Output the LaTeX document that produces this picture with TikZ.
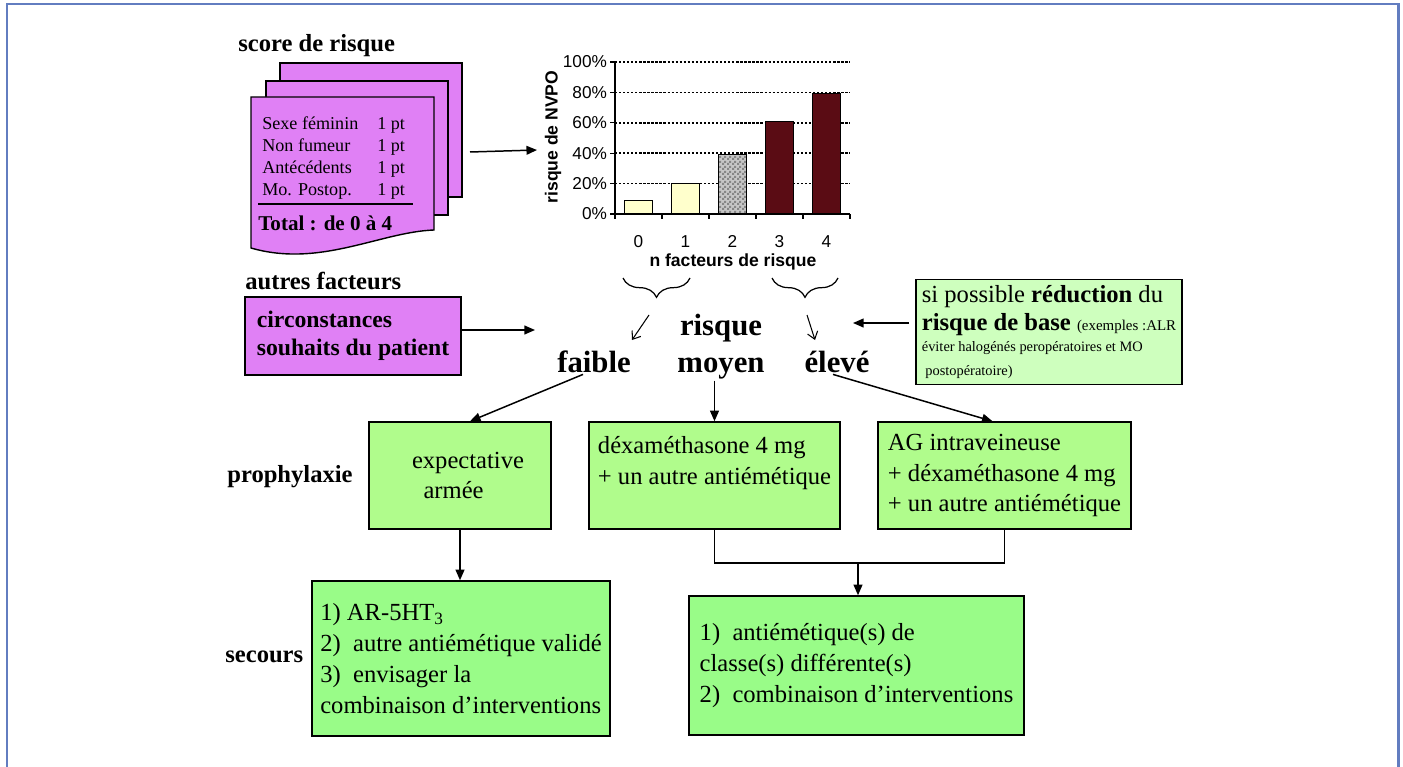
\documentclass[tikz,border=0pt]{standalone}
\usepackage{fontspec}
\setmainfont{Liberation Serif}
\newfontfamily\chartfont{Liberation Sans}
\usetikzlibrary{arrows.meta,decorations.pathreplacing,patterns,positioning}
\definecolor{frameblue}{RGB}{98,125,192}
\definecolor{pagemauve}{RGB}{224,128,245}
\definecolor{prophgreen}{RGB}{176,252,140}
\definecolor{secgreen}{RGB}{153,252,136}
\definecolor{palegreen}{RGB}{206,255,190}
\definecolor{barpale}{RGB}{255,255,204}
\definecolor{bardark}{RGB}{90,12,20}
\newcommand\fsz[2]{\fontsize{#1}{#2}\selectfont}
\pgfdeclarepatternformonly{finechecker}{\pgfpointorigin}{\pgfqpoint{2.6pt}{2.6pt}}{\pgfqpoint{2.6pt}{2.6pt}}
  {\pgfpathrectangle{\pgfpointorigin}{\pgfqpoint{1.3pt}{1.3pt}}
   \pgfpathrectangle{\pgfqpoint{1.3pt}{1.3pt}}{\pgfqpoint{1.3pt}{1.3pt}}
   \pgfusepath{fill}}

\begin{document}
\begin{tikzpicture}
      [x=0.02cm, y=-0.02cm,
      arr/.style={-{Triangle[length=6pt,width=5pt]}, line width=0.85pt},
      thinarr/.style={-{Straight Barb[length=4pt,width=6pt]}, line width=0.6pt},
      box/.style={draw, line width=0.85pt, align=left, font=\fsz{14}{17.6}},
      title/.style={font=\bfseries\fsz{14}{17}, inner sep=0pt, anchor=base west},
      riskword/.style={font=\bfseries\fsz{17.5}{20}, inner sep=1pt, anchor=base},
      page/.style={draw, line width=0.8pt, fill=pagemauve},
      gridline/.style={line width=0.8pt, dash pattern=on 1.3pt off 1pt},
      bar/.style={draw, line width=0.5pt},
      ticklabel/.style={font=\chartfont\fsz{9.8}{11}, inner sep=1pt}]

      \useasboundingbox (0,0) rectangle (1403,767);
      \draw[frameblue, line width=1.7pt] (7,767) -- (7,4) -- (1398,4) -- (1398,767);

      % score de risque
      \node[title] (scoretitle) at (238,52) {score de risque};
      \draw[page] (280,63) rectangle (462,197);
      \draw[page] (266,81) rectangle (448,215);
      \draw[page] (251,97) -- (434,97) -- (434,230)
        .. controls (380,232) and (320,268) .. (251,248) -- cycle;
      \node[anchor=base west, inner sep=0pt, font=\fsz{10.3}{12.5}] (scorelist) at (262,130)
        {\begin{tabular}[t]{@{}p{2.3cm}@{}l@{}}
          Sexe féminin & 1 pt\\
          Non fumeur & 1 pt\\
          Antécédents & 1 pt\\
          Mo. Postop. & 1 pt
        \end{tabular}};
      \draw[line width=0.8pt] (258,204) -- (413,204);
      \node[anchor=base west, inner sep=0pt, font=\bfseries\fsz{12}{14}] (total) at (258,230) {Total : de 0 à 4};

      \coordinate (docout) at (470,152);
      \coordinate (chartin) at (537,150);
      \draw[arr] (docout) -- (chartin);

      % chart
      \foreach \p in {20,40,60,80,100}
        \draw[gridline] (615,{214-1.52*\p}) -- (850,{214-1.52*\p});
      \foreach \i/\h in {0/9,1/20}
        \draw[bar, fill=barpale] ({624+47*\i},214) rectangle ({652+47*\i},{214-1.52*\h});
      \fill[gray!45] (718,214) rectangle (746,{214-1.52*39});
      \fill[pattern=finechecker, pattern color=gray!95] (718,214) rectangle (746,{214-1.52*39});
      \draw[bar] (718,214) rectangle (746,{214-1.52*39});
      \foreach \i/\h in {3/61,4/79}
        \draw[bar, fill=bardark] ({624+47*\i},214) rectangle ({652+47*\i},{214-1.52*\h});
      \draw[line width=0.7pt] (615,62) -- (615,214) -- (850,214);
      \foreach \p in {0,20,40,60,80,100} {
        \draw[line width=0.7pt] (610,{214-1.52*\p}) -- (615,{214-1.52*\p});
        \node[ticklabel, anchor=east] at (609,{214-1.52*\p}) {\p\%};
      }
      \foreach \x in {615,662,709,756,803,850}
        \draw[line width=0.7pt] (\x,214) -- (\x,219);
      \foreach \i in {0,...,4}
        \node[ticklabel, anchor=base] (cat\i) at ({638.5+47*\i},247) {\i};
      \node[font=\chartfont\bfseries\fsz{10}{12}] (xlabel) at (733,262) {n facteurs de risque};
      \node[font=\chartfont\bfseries\fsz{10}{12}, rotate=90] (ylabel) at (553,137) {risque de NVPO};

      % niveaux de risque
      \draw[decorate, decoration={brace, mirror, amplitude=11pt}, line width=0.7pt] (623,278) -- (690,278);
      \draw[decorate, decoration={brace, mirror, amplitude=11pt}, line width=0.7pt] (772,278) -- (838,278);
      \coordinate (braceL) at (649,315);
      \coordinate (lowend) at (632,340);
      \coordinate (braceR) at (807,315);
      \coordinate (highend) at (815,340);
      \draw[thinarr] (braceL) -- (lowend);
      \draw[thinarr] (braceR) -- (highend);

      \node[riskword] (risque) at (721,335) {risque};
      \node[riskword] (faible) at (594,372) {faible};
      \node[riskword] (moyen) at (721,372) {moyen};
      \node[riskword] (eleve) at (837,372) {élevé};

      % autres facteurs
      \node[title] (autrestitle) at (245,289) {autres facteurs};
      \node[box, fill=pagemauve, font=\bfseries\fsz{13.5}{16}, minimum width=4.32cm, minimum height=1.56cm] (circbox)
        at (353,336) {circonstances\\souhaits du patient};
      \coordinate (circin) at (535,330);
      \draw[arr] (circbox.east |- circin) -- (circin);

      % reduction du risque de base
      \node[box, fill=palegreen, font=\fsz{14}{16}, minimum width=5.28cm, minimum height=2.04cm] (redbox)
        at (1049,332) {si possible \textbf{réduction} du\\
        \textbf{risque de base} {\fsz{8.5}{10}(exemples :ALR}\\[-4pt]
        {\fsz{8.2}{10}éviter halogénés peropératoires et MO}\\[-2.4pt]
        {\fsz{8.2}{10}\hspace*{2pt}postopératoire)}};
      \coordinate (redout) at (909,323);
      \coordinate (redin) at (853,323);
      \draw[arr] (redout) -- (redin);

      % prophylaxie
      \node[title] (prophtitle) at (227,482) {prophylaxie};
      \node[box, fill=prophgreen, minimum width=3.64cm, minimum height=2.14cm] (boxA)
        at (460,475.5) {\hspace*{0.32cm}expectative\\\hspace*{0.55cm}armée};
      \node[box, fill=prophgreen, minimum width=5.02cm, minimum height=2.14cm] (boxB)
        at (714.5,475.5) {déxaméthasone 4 mg\\+ un autre antiémétique\\\mbox{}};
      \node[box, fill=prophgreen, minimum width=5.06cm, minimum height=2.14cm] (boxC)
        at (1004.5,475.5) {AG intraveineuse\\+ déxaméthasone 4 mg\\+ un autre antiémétique};

      \draw[arr] ([xshift=-0.22cm]faible.south) -- ([xshift=0.2cm]boxA.north);
      \draw[arr] (moyen.south -| boxB.north) -- (boxB.north);
      \draw[arr] ([xshift=-0.08cm]eleve.south) -- ([xshift=-0.24cm]boxC.north);

      % secours
      \node[title] (secourstitle) at (225,662) {secours};
      \node[box, fill=secgreen, minimum width=5.96cm, minimum height=3.1cm] (boxD)
        at (461,658.5) {1) AR-5HT\textsubscript{3}\\2)~~autre antiémétique validé\\3)~~envisager la\\combinaison d’interventions};
      \node[box, fill=secgreen, minimum width=6.7cm, minimum height=2.78cm] (boxE)
        at (856.5,665.5) {1)~~antiémétique(s) de\\classe(s) différente(s)\\2)~~combinaison d’interventions};

      \coordinate (join) at (858,563);
      \draw[arr] (boxA.south) -- (boxA.south |- boxD.north);
      \draw[line width=0.85pt] (boxB.south) |- (join) -| (boxC.south);
      \draw[arr] (join) -- (join |- boxE.north);
    \end{tikzpicture}
\end{document}
